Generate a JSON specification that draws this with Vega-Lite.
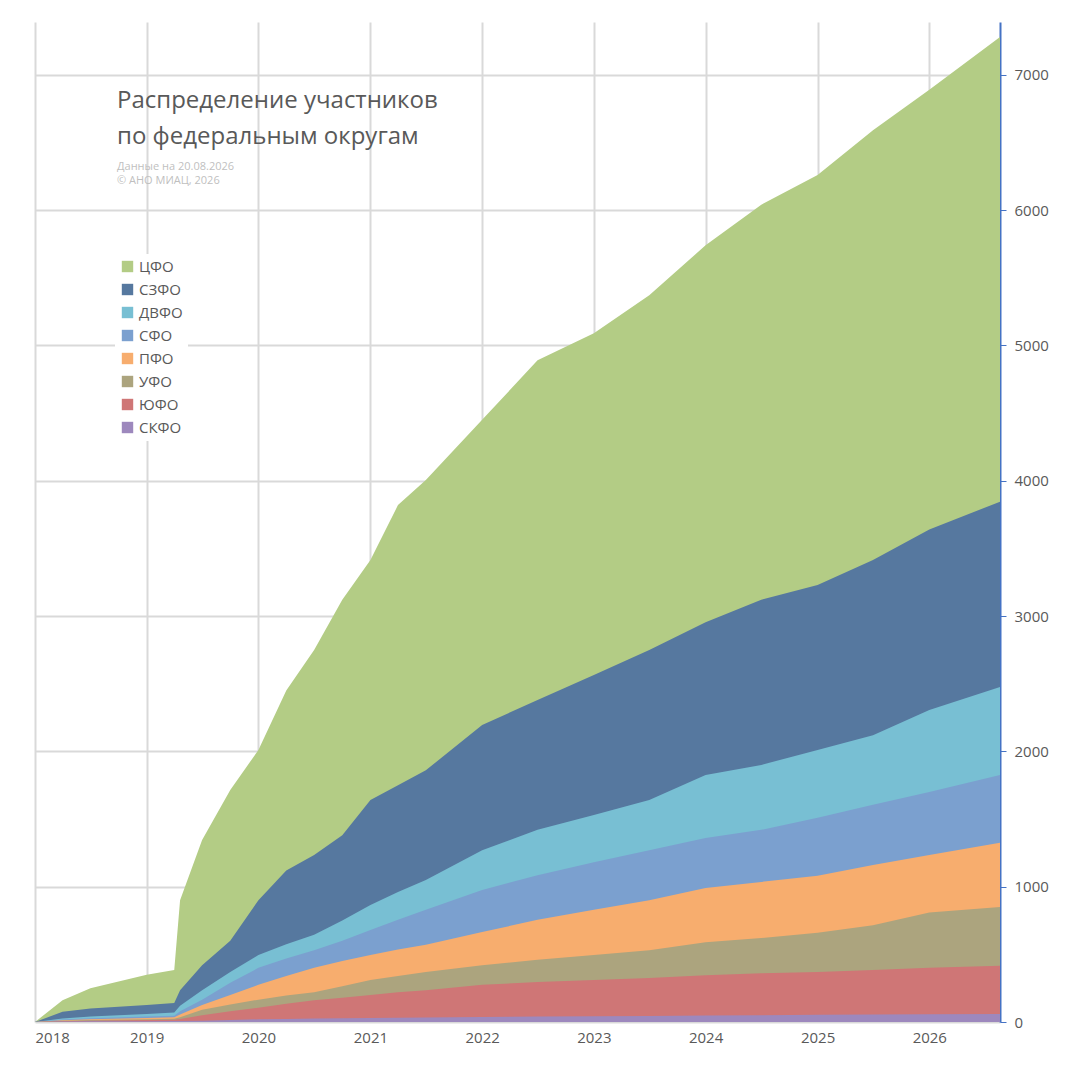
{
  "$schema": "https://vega.github.io/schema/vega-lite/v6.json",
  "autosize": "none",
  "width": 965,
  "height": 1000,
  "padding": {"left": 35, "top": 22, "right": 65, "bottom": 43},
  "background": "white",
  "title": {
    "text": ["Распределение участников", "по федеральным округам"],
    "subtitle": ["Данные на 20.08.2026", "© АНО МИАЦ, 2026"],
    "anchor": "start",
    "orient": "top",
    "frame": "group",
    "dx": 82,
    "dy": 168,
    "font": "Open Sans",
    "fontSize": 24,
    "fontWeight": "normal",
    "color": "#595959",
    "lineHeight": 36,
    "subtitleFont": "Open Sans",
    "subtitleFontSize": 11,
    "subtitleColor": "#bfbfbf",
    "subtitleLineHeight": 14,
    "subtitlePadding": 12
  },
  "datasets": {
    "d": [
      {"d": "2018-01-01", "sk": 0, "yu": 0, "ur": 0, "pv": 0, "sb": 0, "dv": 0, "sz": 0, "total": 0},
      {"d": "2018-04-01", "sk": 3, "yu": 6, "ur": 9, "pv": 13, "sb": 18, "dv": 25, "sz": 75, "total": 160},
      {"d": "2018-07-01", "sk": 5, "yu": 10, "ur": 14, "pv": 20, "sb": 28, "dv": 40, "sz": 100, "total": 250},
      {"d": "2019-01-01", "sk": 6, "yu": 15, "ur": 20, "pv": 30, "sb": 40, "dv": 60, "sz": 125, "total": 350},
      {"d": "2019-04-01", "sk": 7, "yu": 17, "ur": 24, "pv": 35, "sb": 47, "dv": 70, "sz": 140, "total": 385},
      {"d": "2019-04-20", "sk": 8, "yu": 22, "ur": 35, "pv": 55, "sb": 80, "dv": 120, "sz": 235, "total": 900},
      {"d": "2019-07-01", "sk": 10, "yu": 50, "ur": 90, "pv": 125, "sb": 165, "dv": 235, "sz": 420, "total": 1345},
      {"d": "2019-10-01", "sk": 15, "yu": 80, "ur": 130, "pv": 200, "sb": 290, "dv": 370, "sz": 600, "total": 1715},
      {"d": "2020-01-01", "sk": 20, "yu": 105, "ur": 165, "pv": 275, "sb": 400, "dv": 495, "sz": 900, "total": 2010},
      {"d": "2020-04-01", "sk": 22, "yu": 135, "ur": 195, "pv": 340, "sb": 470, "dv": 575, "sz": 1120, "total": 2450},
      {"d": "2020-07-01", "sk": 25, "yu": 160, "ur": 220, "pv": 400, "sb": 530, "dv": 645, "sz": 1235, "total": 2750},
      {"d": "2020-10-01", "sk": 28, "yu": 180, "ur": 265, "pv": 450, "sb": 600, "dv": 750, "sz": 1380, "total": 3120},
      {"d": "2021-01-01", "sk": 30, "yu": 200, "ur": 310, "pv": 495, "sb": 680, "dv": 865, "sz": 1640, "total": 3415},
      {"d": "2021-04-01", "sk": 32, "yu": 220, "ur": 340, "pv": 535, "sb": 755, "dv": 960, "sz": 1750, "total": 3820},
      {"d": "2021-07-01", "sk": 34, "yu": 235, "ur": 370, "pv": 570, "sb": 830, "dv": 1050, "sz": 1860, "total": 4005},
      {"d": "2022-01-01", "sk": 37, "yu": 275, "ur": 420, "pv": 665, "sb": 975, "dv": 1270, "sz": 2195, "total": 4450},
      {"d": "2022-07-01", "sk": 40, "yu": 295, "ur": 460, "pv": 755, "sb": 1085, "dv": 1420, "sz": 2380, "total": 4890},
      {"d": "2023-01-01", "sk": 42, "yu": 310, "ur": 495, "pv": 830, "sb": 1180, "dv": 1530, "sz": 2565, "total": 5090},
      {"d": "2023-07-01", "sk": 45, "yu": 325, "ur": 530, "pv": 900, "sb": 1270, "dv": 1640, "sz": 2750, "total": 5370},
      {"d": "2024-01-01", "sk": 48, "yu": 345, "ur": 590, "pv": 990, "sb": 1360, "dv": 1825, "sz": 2955, "total": 5740},
      {"d": "2024-07-01", "sk": 50, "yu": 360, "ur": 620, "pv": 1035, "sb": 1420, "dv": 1900, "sz": 3120, "total": 6040},
      {"d": "2025-01-01", "sk": 53, "yu": 370, "ur": 660, "pv": 1080, "sb": 1510, "dv": 2010, "sz": 3230, "total": 6260},
      {"d": "2025-07-01", "sk": 56, "yu": 385, "ur": 715, "pv": 1160, "sb": 1605, "dv": 2120, "sz": 3415, "total": 6590},
      {"d": "2026-01-01", "sk": 58, "yu": 400, "ur": 810, "pv": 1235, "sb": 1700, "dv": 2305, "sz": 3640, "total": 6890},
      {"d": "2026-08-20", "sk": 60, "yu": 415, "ur": 850, "pv": 1325, "sb": 1825, "dv": 2475, "sz": 3845, "total": 7280}
    ]
  },
  "data": {"name": "d"},
  "encoding": {
    "x": {
      "field": "d", "type": "temporal",
      "scale": {"domain": ["2018-01-01", "2026-08-20"]},
      "axis": {"format": "%Y", "tickCount": "year", "grid": true, "gridColor": "#d9d9d9", "gridWidth": 2,
               "domain": false, "ticks": false, "labelFontSize": 15, "labelColor": "#595959",
               "labelFont": "Open Sans", "labelPadding": 8, "title": null}
    }
  },
  "layer": [
    {"mark": {"type": "area"}, "encoding": {"y": {"field": "total", "type": "quantitative",
      "scale": {"domain": [0, 7390], "nice": false},
      "axis": {"orient": "right", "values": [0, 1000, 2000, 3000, 4000, 5000, 6000, 7000], "format": "d", "grid": true,
               "gridColor": "#d9d9d9", "gridWidth": 2, "domainColor": "#4472c4", "domainWidth": 2,
               "tickColor": "#4472c4", "tickSize": 6, "tickOffset": 0, "labelFontSize": 15, "labelColor": "#595959",
               "labelFont": "Open Sans", "labelPadding": 8, "title": null}},
      "color": {"datum": "ЦФО"}}},
    {"mark": {"type": "area"}, "encoding": {"y": {"field": "sz", "type": "quantitative"}, "color": {"datum": "СЗФО"}}},
    {"mark": {"type": "area"}, "encoding": {"y": {"field": "dv", "type": "quantitative"}, "color": {"datum": "ДВФО"}}},
    {"mark": {"type": "area"}, "encoding": {"y": {"field": "sb", "type": "quantitative"}, "color": {"datum": "СФО"}}},
    {"mark": {"type": "area"}, "encoding": {"y": {"field": "pv", "type": "quantitative"}, "color": {"datum": "ПФО"}}},
    {"mark": {"type": "area"}, "encoding": {"y": {"field": "ur", "type": "quantitative"}, "color": {"datum": "УФО"}}},
    {"mark": {"type": "area"}, "encoding": {"y": {"field": "yu", "type": "quantitative"}, "color": {"datum": "ЮФО"}}},
    {"mark": {"type": "area"}, "encoding": {"y": {"field": "sk", "type": "quantitative"},
      "color": {"datum": "СКФО", "type": "nominal",
        "scale": {"domain": ["ЦФО", "СЗФО", "ДВФО", "СФО", "ПФО", "УФО", "ЮФО", "СКФО"],
                  "range": ["#b3cc85", "#56789f", "#78bfd3", "#7ba0cf", "#f7ad6e", "#aca47e", "#cf7676", "#9d88bd"]},
        "legend": {"orient": "none", "legendX": 80, "legendY": 232, "title": null, "symbolType": "square",
                   "symbolSize": 130, "symbolStrokeWidth": 0, "labelFontSize": 15, "labelColor": "#595959",
                   "labelFont": "Open Sans", "rowPadding": 7, "fillColor": "white", "padding": 5}}}}
  ],
  "config": {"view": {"stroke": null}, "area": {"opacity": 1}}
}
